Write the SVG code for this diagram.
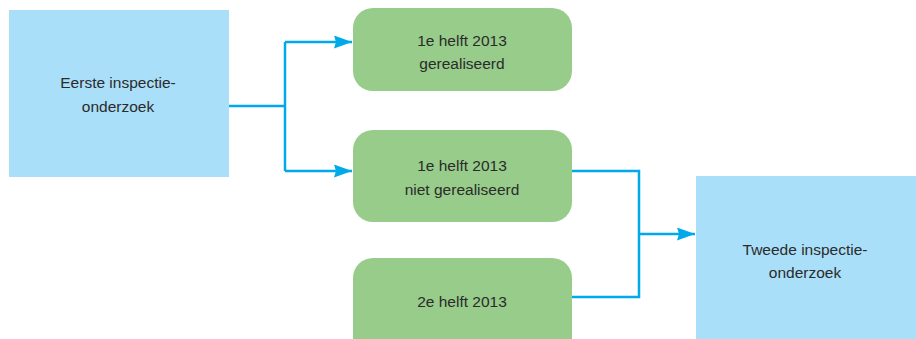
<svg xmlns="http://www.w3.org/2000/svg" width="916" height="339" viewBox="0 0 916 339">
<style>
.blue{fill:#aadff9}
.green{fill:#97cc8a}
.t{font-family:"Liberation Sans",Arial,sans-serif;font-size:15.5px;fill:#2b2b2b;text-anchor:middle}
.c{fill:none;stroke:#00a9e8;stroke-width:2.5}
</style>
<defs>
<marker id="ah" viewBox="0 0 18 13" refX="18" refY="6.5" markerWidth="18" markerHeight="13" markerUnits="userSpaceOnUse" orient="auto">
<path d="M0,0 L18,6.5 L0,13 L2,6.5 Z" fill="#00a9e8"/>
</marker>
</defs>
<g id="n1"><rect class="blue" x="9" y="10" width="220" height="167"/><text class="t" x="118" y="88">Eerste inspectie-</text><text class="t" x="118" y="112">onderzoek</text></g>
<g id="n2"><rect class="green" x="353" y="8" width="219" height="83" rx="20"/><text class="t" x="462" y="46">1e helft 2013</text><text class="t" x="462" y="69">gerealiseerd</text></g>
<g id="n3"><rect class="green" x="353" y="130" width="219" height="92" rx="20"/><text class="t" x="462" y="171">1e helft 2013</text><text class="t" x="462" y="195">niet gerealiseerd</text></g>
<g id="n4"><rect class="green" x="353" y="258" width="219" height="100" rx="20"/><text class="t" x="462" y="307">2e helft 2013</text></g>
<g id="n5"><rect class="blue" x="696" y="176" width="230" height="180"/><text class="t" x="805" y="255">Tweede inspectie-</text><text class="t" x="805" y="278">onderzoek</text></g>
<g id="connectors">
<path class="c" d="M229,106 H285"/>
<path class="c" d="M285,42 V171"/>
<path class="c" d="M285,42 H352" marker-end="url(#ah)"/>
<path class="c" d="M285,171 H352" marker-end="url(#ah)"/>
<path class="c" d="M572,171 H639 V297 H572"/>
<path class="c" d="M639,234 H695" marker-end="url(#ah)"/>
</g>
</svg>
